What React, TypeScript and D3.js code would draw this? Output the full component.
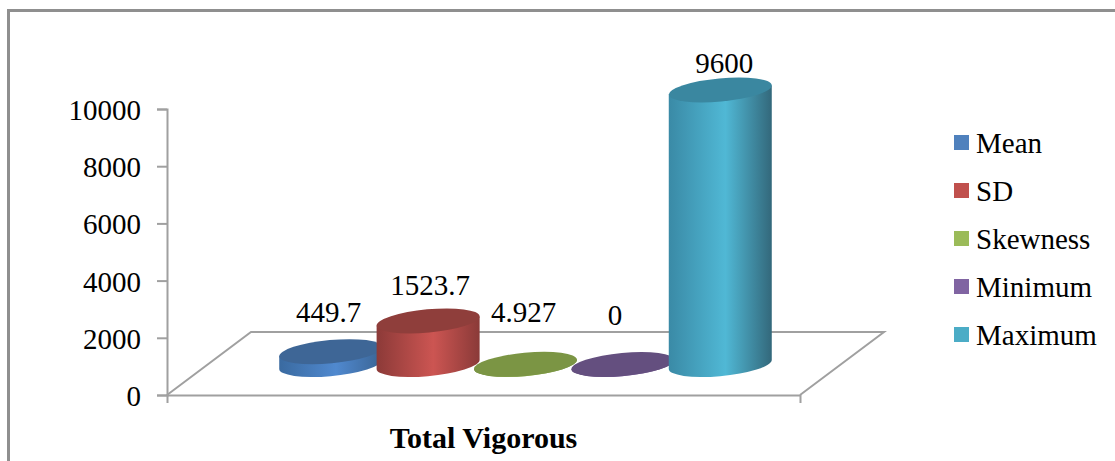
// App.tsx
import React, { useRef, useEffect } from 'react';
import * as d3 from 'd3';

const seriesNames = ['Mean', 'SD', 'Skewness', 'Minimum', 'Maximum'];
const seriesValues = [449.7, 1523.7, 4.927, 0, 9600];
const valueLabels = ['449.7', '1523.7', '4.927', '0', '9600'];
const yTicks = [0, 2000, 4000, 6000, 8000, 10000];
const categoryName = 'Total Vigorous';

const legendColors = ['#4f81bd', '#c0504d', '#9bbb59', '#8064a2', '#4bacc6'];
const topColors = ['#3e6696', '#8f3e3b', '#7b9544', '#644f7f', '#3a87a0'];
const sideEdgeLeft = ['#3a6aa0', '#8c3a38', '#6f8a3d', '#5a4673', '#3a8aa6'];
const sideMiddle = ['#5089cf', '#cc5552', '#a4c75f', '#8a6bad', '#50b8d5'];
const sideEdgeRight = ['#3a6494', '#8a3a38', '#6f8a3d', '#5a4673', '#33687b'];

// label shift from the top of each cylinder
const labelShift = [
  [-2, -30],
  [2, -26],
  [-2, -42],
  [-8, -40],
  [4, -17],
];

const width = 1115;
const height = 461;
const serif = '"Liberation Serif", "Times New Roman", serif';
const fontSize = 29;
const plot = { left: 167, right: 800, top: 109, bottom: 395 };
const depth = { x: 84, y: 63 };
// cylinder ellipse: half axes and tilt
const ell = { rx: 51.7, ry: 11.6, tilt: -5.3, halfW: 51.5, tangentY: 4.5 };
const baseLift = 30.5;

const App: React.FC = () => {
  const svgRef = useRef<SVGSVGElement | null>(null);

  useEffect(() => {
    const svg = d3.select(svgRef.current);
    svg.selectAll('*').remove();

    const yScale = d3.scaleLinear().domain([0, 10000]).range([plot.bottom, plot.top]);
    const xCat = d3.scaleBand<string>().domain([categoryName]).range([plot.left, plot.right]);
    const xSeries = d3.scalePoint<string>()
      .domain(seriesNames)
      .range([plot.left + depth.x / 2, plot.right + depth.x / 2])
      .padding(1.25);

    const defs = svg.append('defs');
    seriesNames.forEach((name, i) => {
      const grad = defs.append('linearGradient').attr('id', `side-${i}`);
      grad.append('stop').attr('offset', '0%').attr('stop-color', sideEdgeLeft[i]);
      grad.append('stop').attr('offset', '55%').attr('stop-color', sideMiddle[i]);
      grad.append('stop').attr('offset', '100%').attr('stop-color', sideEdgeRight[i]);
    });

    // outer frame, runs off the right and the bottom of the picture
    svg.append('path')
      .attr('d', `M8.5,${height + 2} V10.5 H${width + 2}`)
      .attr('fill', 'none')
      .attr('stroke', '#8f8f8f')
      .attr('stroke-width', 3);

    // floor
    svg.append('path')
      .attr('d', `M${plot.left},${plot.bottom} L${plot.left + depth.x},${plot.bottom - depth.y} H${plot.right + depth.x} L${plot.right},${plot.bottom}`)
      .attr('fill', 'none')
      .attr('stroke', '#a0a0a0')
      .attr('stroke-width', 2);

    // axes
    const yAxis = svg.append('g')
      .attr('transform', `translate(${plot.left},0)`)
      .call(d3.axisLeft(yScale).tickValues(yTicks).tickFormat(d3.format('d') as any).tickSize(10).tickPadding(16));
    const xAxis = svg.append('g')
      .attr('transform', `translate(0,${plot.bottom})`)
      .call(d3.axisBottom(xCat).tickValues([]).tickSizeOuter(8));
    [yAxis, xAxis].forEach(g => {
      g.selectAll('path, line').attr('stroke', '#a0a0a0').attr('stroke-width', 2);
    });
    yAxis.selectAll('text')
      .attr('font-family', serif)
      .attr('font-size', fontSize)
      .attr('dy', '0.36em')
      .attr('fill', '#000');

    // cylinders
    const baseY = plot.bottom - baseLift;
    seriesNames.forEach((name, i) => {
      const cx = xSeries(name) || 0;
      const h = plot.bottom - yScale(seriesValues[i]);
      const topY = baseY - h;
      const g = svg.append('g');
      g.append('path')
        .attr('d', `M${cx - ell.halfW},${topY + ell.tangentY} V${baseY + ell.tangentY} A${ell.rx},${ell.ry} ${ell.tilt} 0 0 ${cx + ell.halfW},${baseY - ell.tangentY} V${topY - ell.tangentY} Z`)
        .attr('fill', `url(#side-${i})`);
      g.append('ellipse')
        .attr('rx', ell.rx)
        .attr('ry', ell.ry)
        .attr('transform', `translate(${cx},${topY}) rotate(${ell.tilt})`)
        .attr('fill', topColors[i]);
    });

    // value labels
    seriesNames.forEach((name, i) => {
      svg.append('text')
        .attr('x', (xSeries(name) || 0) + labelShift[i][0])
        .attr('y', yScale(seriesValues[i]) - baseLift + labelShift[i][1])
        .attr('text-anchor', 'middle')
        .attr('font-family', serif)
        .attr('font-size', fontSize)
        .attr('fill', '#000')
        .text(valueLabels[i]);
    });

    // category title
    svg.append('text')
      .attr('x', xCat(categoryName)! + xCat.bandwidth() / 2)
      .attr('y', 448)
      .attr('text-anchor', 'middle')
      .attr('font-family', serif)
      .attr('font-size', 30)
      .attr('font-weight', 'bold')
      .attr('fill', '#000')
      .text(categoryName);

    // legend
    const legendY = d3.scalePoint<string>().domain(seriesNames).range([135, 327]);
    seriesNames.forEach((name, i) => {
      const y = legendY(name) || 0;
      svg.append('rect')
        .attr('x', 954)
        .attr('y', y)
        .attr('width', 15)
        .attr('height', 15)
        .attr('fill', legendColors[i]);
      svg.append('text')
        .attr('x', 976)
        .attr('y', y + 18)
        .attr('font-family', serif)
        .attr('font-size', fontSize)
        .attr('fill', '#000')
        .text(name);
    });
  }, []);

  return (
    <svg
      ref={svgRef}
      width={width}
      height={height}
      style={{ position: 'absolute', left: 0, top: 0, background: '#fff' }}
    ></svg>
  );
};

export default App;
